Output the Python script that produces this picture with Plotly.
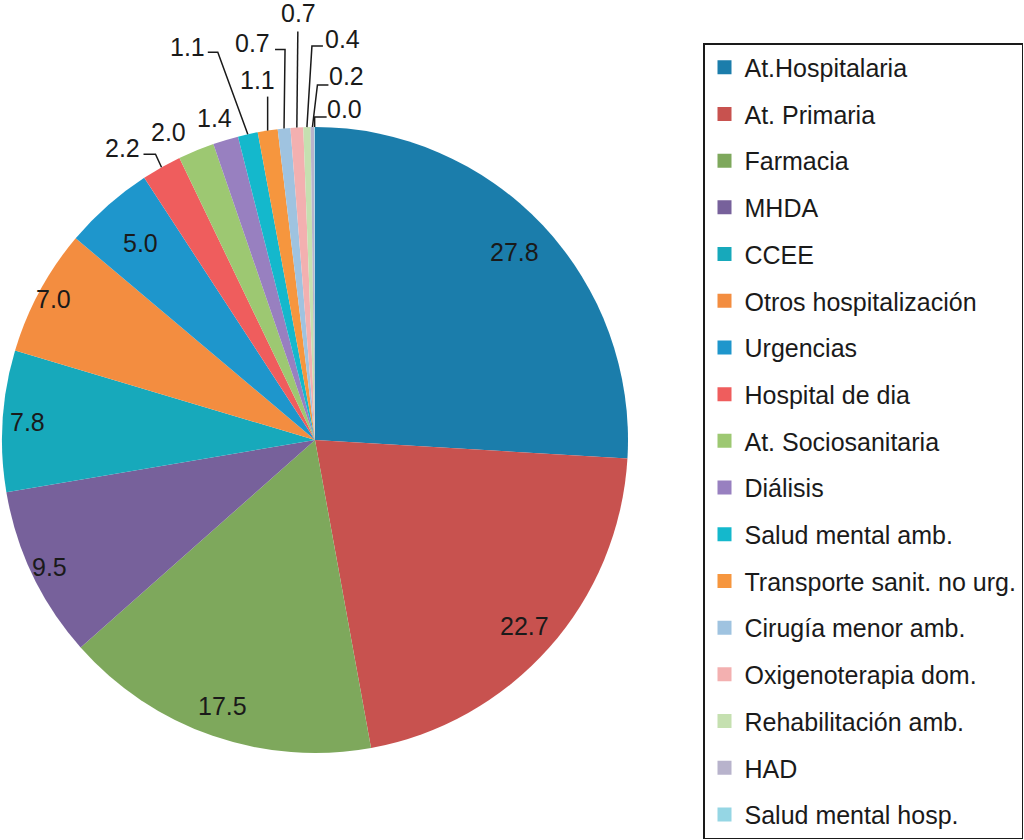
import math
import plotly.graph_objects as go

categories = ["At.Hospitalaria", "At. Primaria", "Farmacia", "MHDA", "CCEE",
              "Otros hospitalización", "Urgencias", "Hospital de dia",
              "At. Sociosanitaria", "Diálisis", "Salud mental amb.",
              "Transporte sanit. no urg.", "Cirugía menor amb.",
              "Oxigenoterapia dom.", "Rehabilitación amb.", "HAD",
              "Salud mental hosp."]
values = [27.8, 22.7, 17.5, 9.5, 7.8, 7.0, 5.0, 2.2, 2.0, 1.4, 1.1, 1.1,
          0.7, 0.7, 0.4, 0.2, 0.04]
colors = ["#1b7dab", "#c8524f", "#7ea85c", "#77619b", "#17a9bb", "#f38d40",
          "#1e96cc", "#ef5d5d", "#9dc872", "#9880c0", "#14b8cc", "#f6963e",
          "#9fc3e0", "#f3b0b0", "#c5e0b0", "#b8b3cc", "#95d6e4"]

# ---- layout constants (pixels) ----
W, H = 1024, 840
CX, CY, R = 315, 440, 313
FONT = "Liberation Sans, Arial, Helvetica, sans-serif"
TXT = "#1a1a1a"

# inside labels: radial position as fraction of radius
inside_frac = [0.875, 0.895, 0.9, 0.94, 0.92, 0.95, 0.84]
# outside labels: text offset from slice edge point, and leader polyline offsets
outside_layout = [
    ((-39, -19), [(-6, -13), (-18, -13)]),
    ((-28, -18), []),
    ((-11, -22), []),
    ((-60, -87), [(-30, -82), (-40, -82)]),
    ((-10, -51), [(0, -34)]),
    ((-32, -86), [(1, -79), (-9, -79)]),
    ((2, -115), [(1, -96)]),
    ((36, -88), [(5, -81), (16, -81)]),
    ((34, -51), [(5, -42), (16, -42)]),
    ((30, -18), [(0, -10), (12, -10)]),
]

def px(x):
    return x / W

def py(y):
    return 1 - y / H

fig = go.Figure()
fig.add_trace(go.Pie(
    labels=categories, values=values, sort=False, direction="clockwise",
    rotation=0, marker=dict(colors=colors, line=dict(width=0)),
    textinfo="none",
    domain=dict(x=[(CX - R) / W, (CX + R) / W], y=[py(CY + R), py(CY - R)]),
    showlegend=False, hoverinfo="label+value",
))
for name, c in zip(categories, colors):
    fig.add_trace(go.Scatter(
        x=[None], y=[None], mode="markers", name=name, legendgroup=name,
        marker=dict(symbol="square", size=14, color=c), hoverinfo="skip"))

total = sum(values)
annotations, shapes = [], []
cum = 0.0
n_in = len(inside_frac)
for i, v in enumerate(values):
    theta = 2 * math.pi * (cum + v / 2) / total
    cum += v
    s, c = math.sin(theta), math.cos(theta)
    label = f"{v:.1f}"
    if i < n_in:
        r = R * inside_frac[i]
        x, y = CX + r * s, CY - r * c
    else:
        ex, ey = CX + R * s, CY - R * c
        (tx, ty), pts = outside_layout[i - n_in]
        x, y = ex + tx, ey + ty
        if pts:
            path = f"M {px(ex)} {py(ey)}" + "".join(
                f" L {px(ex + dx)} {py(ey + dy)}" for dx, dy in pts)
            shapes.append(dict(type="path", path=path, xref="paper", yref="paper",
                               line=dict(color=TXT, width=1.5)))
    annotations.append(dict(x=px(x), y=py(y), xref="paper", yref="paper",
                            text=label, showarrow=False,
                            xanchor="center", yanchor="middle",
                            font=dict(family=FONT, size=25, color=TXT)))

fig.update_layout(
    width=W, height=H, margin=dict(l=0, r=0, t=0, b=0, autoexpand=False),
    paper_bgcolor="white", plot_bgcolor="white",
    font=dict(family=FONT, size=25, color=TXT),
    xaxis=dict(visible=False), yaxis=dict(visible=False),
    annotations=annotations, shapes=shapes,
    legend=dict(x=703 / W, y=py(43), xanchor="left", yanchor="top",
                bordercolor=TXT, borderwidth=1.5, bgcolor="white",
                font=dict(family=FONT, size=25, color=TXT),
                tracegroupgap=11.2, itemwidth=30),
)
fig.write_html("out.html", config={"displayModeBar": False},
               post_script="document.body.style.margin='0';"
                           "document.body.style.padding='0';")
